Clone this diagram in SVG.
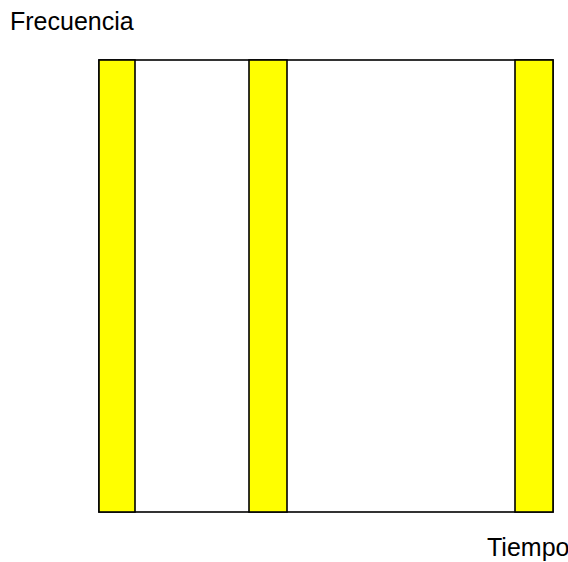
<svg xmlns="http://www.w3.org/2000/svg" width="568" height="562" viewBox="0 0 568 562">
<style>
.lbl{font-family:"Liberation Sans",Arial,sans-serif;font-size:25px;fill:#000}
.bar{fill:#ffff00;stroke:#000;stroke-width:1.6}
.frame{fill:#fff;stroke:#000;stroke-width:1.6}
</style>
<rect width="568" height="562" fill="#fff"/>
<g id="frame"><rect class="frame" x="99" y="60" width="454" height="452"/></g>
<g id="bar1"><rect class="bar" x="99" y="60" width="36" height="452"/></g>
<g id="bar2"><rect class="bar" x="249" y="60" width="38" height="452"/></g>
<g id="bar3"><rect class="bar" x="515" y="60" width="38" height="452"/></g>
<g id="label-freq"><text class="lbl" x="10" y="30">Frecuencia</text></g>
<g id="label-time"><text class="lbl" x="487" y="556">Tiempo</text></g>
</svg>
